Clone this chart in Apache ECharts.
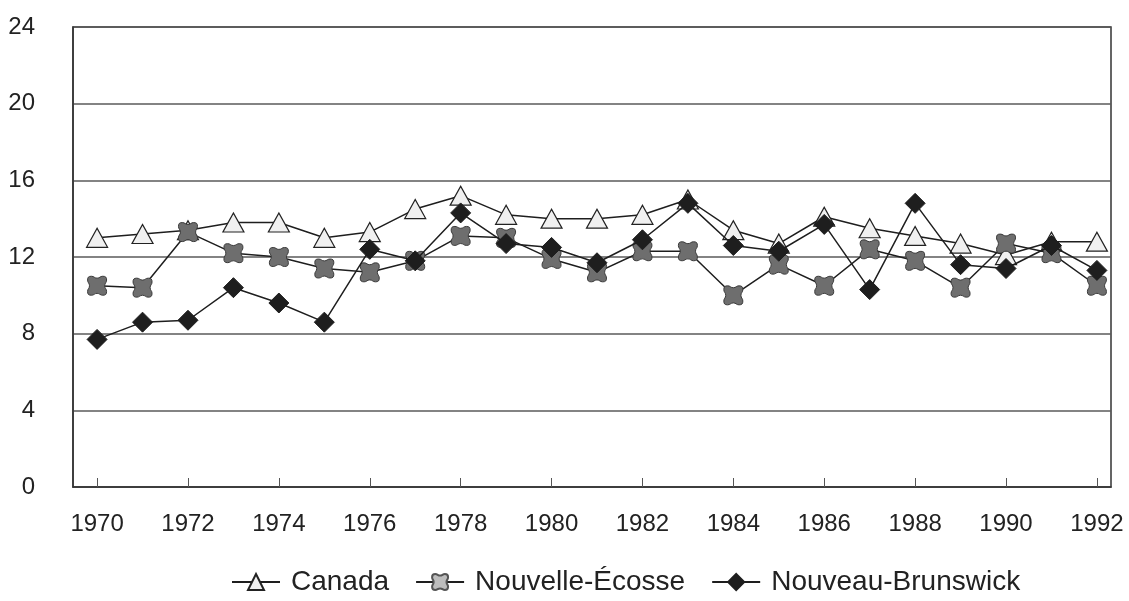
<!DOCTYPE html>
<html>
<head>
<meta charset="utf-8">
<script src="https://cdn.jsdelivr.net/npm/echarts@6/dist/echarts.min.js"></script>
<style>
html,body{margin:0;padding:0;background:#fff;}
#chart{width:1129px;height:601px;}
</style>
</head>
<body>
<div id="chart"></div>
<script>
const years = [1970,1971,1972,1973,1974,1975,1976,1977,1978,1979,1980,1981,1982,1983,1984,1985,1986,1987,1988,1989,1990,1991,1992];
const yearLabels = [1970,1972,1974,1976,1978,1980,1982,1984,1986,1988,1990,1992];
const yTicks = [0,4,8,12,16,20,24];
const canada = [13.0,13.2,13.4,13.8,13.8,13.0,13.3,14.5,15.2,14.2,14.0,14.0,14.2,15.0,13.4,12.7,14.1,13.5,13.1,12.7,12.1,12.8,12.8];
const nouvelleEcosse = [10.5,10.4,13.3,12.2,12.0,11.4,11.2,11.8,13.1,13.0,11.9,11.2,12.3,12.3,10.0,11.6,10.5,12.4,11.8,10.4,12.7,12.2,10.5];
const nouveauBrunswick = [7.7,8.6,8.7,10.4,9.6,8.6,12.4,11.8,14.3,12.7,12.5,11.7,12.9,14.8,12.6,12.3,13.7,10.3,14.8,11.6,11.4,12.6,11.3];
const seriesNames = ['Canada','Nouvelle-Écosse','Nouveau-Brunswick'];

const pair = arr => years.map((y,i)=>[y,arr[i]]);
const scallop = 'path://M4 0C7 0 7 2 10 2C13 2 13 0 16 0C19 0 20 1 20 4C20 7 18 7 18 10C18 13 20 13 20 16C20 19 19 20 16 20C13 20 13 18 10 18C7 18 7 20 4 20C1 20 0 19 0 16C0 13 2 13 2 10C2 7 0 7 0 4C0 1 1 0 4 0Z';
const FONT = '"Liberation Sans", Arial, sans-serif';

const chart = echarts.init(document.getElementById('chart'), null, {renderer:'canvas'});
chart.setOption({
  animation:false,
  backgroundColor:'#ffffff',
  textStyle:{fontFamily:FONT},
  grid:{left:73,right:18,top:27,bottom:114,show:true,borderColor:'#333',borderWidth:1.5,backgroundColor:'transparent'},
  xAxis:{
    type:'value', min:1969.47, max:1992.31,
    axisLine:{show:true,lineStyle:{color:'#333',width:1.5}},
    axisTick:{show:true,inside:true,length:9,customValues:yearLabels,lineStyle:{color:'#555',width:1}},
    axisLabel:{customValues:yearLabels,color:'#222',fontSize:24,fontFamily:FONT,margin:25,formatter:v=>String(v)},
    splitLine:{show:false}
  },
  yAxis:{
    type:'value', min:0, max:24, interval:4,
    axisLine:{show:true,lineStyle:{color:'#333',width:1.5}},
    axisTick:{show:false},
    axisLabel:{color:'#222',fontSize:24,fontFamily:FONT,margin:38,align:'right'},
    splitLine:{show:true,lineStyle:{color:'#5a5a5a',width:1.5}}
  },
  legend:{
    left:226, top:563, itemWidth:48, itemHeight:20, itemGap:26,
    textStyle:{fontSize:28,color:'#222',fontFamily:FONT,padding:[0,0,0,6]},
    data:[
      {name:seriesNames[0]},
      {name:seriesNames[1],itemStyle:{color:'#bdbdbd',borderColor:'#555'}},
      {name:seriesNames[2]}
    ]
  },
  series:[
    {name:seriesNames[0],type:'line',data:pair(canada),symbol:'triangle',symbolSize:[21,19],
     lineStyle:{color:'#1e1e1e',width:1.5},itemStyle:{color:'#f0f0f0',borderColor:'#222',borderWidth:1.2},z:3},
    {name:seriesNames[1],type:'line',data:pair(nouvelleEcosse),symbol:scallop,symbolSize:19,
     lineStyle:{color:'#1e1e1e',width:1.5},itemStyle:{color:'#6e6e6e',borderColor:'#3a3a3a',borderWidth:1},z:4},
    {name:seriesNames[2],type:'line',data:pair(nouveauBrunswick),symbol:'diamond',symbolSize:20,
     lineStyle:{color:'#1e1e1e',width:1.5},itemStyle:{color:'#1e1e1e',borderColor:'#1e1e1e',borderWidth:1},z:5}
  ]
});
</script>
</body>
</html>
